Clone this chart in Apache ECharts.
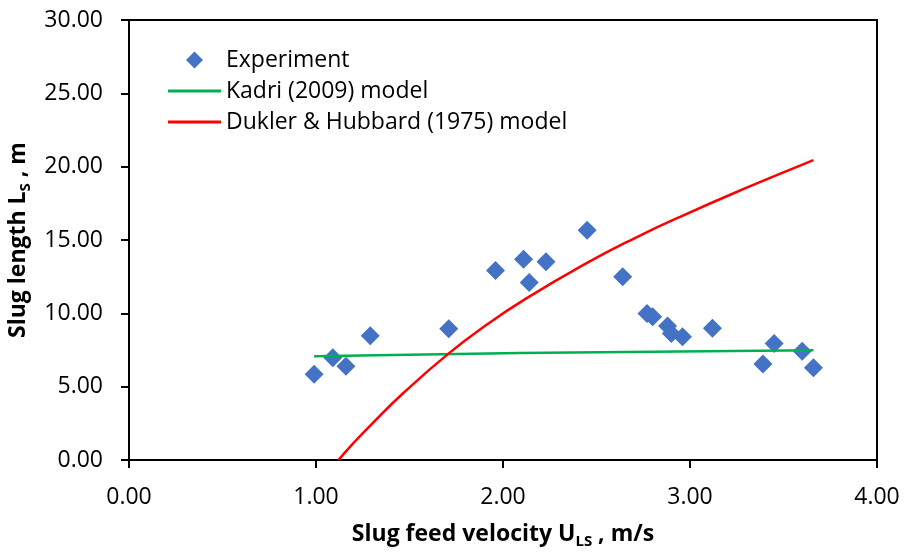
<!DOCTYPE html>
<html>
<head>
<meta charset="utf-8">
<script src="https://cdn.jsdelivr.net/npm/echarts@6/dist/echarts.min.js"></script>
<style>
  html, body { margin: 0; padding: 0; background: #fff; }
  #chart { width: 904px; height: 552px; }
</style>
</head>
<body>
<div id="chart"></div>
<script>
// Measured slug lengths: feed velocity U_LS (m/s) and slug length L_S (m)
const expVelocity = [0.99, 1.09, 1.16, 1.29, 1.71, 1.96, 2.11, 2.14, 2.23, 2.45,
                     2.64, 2.77, 2.80, 2.88, 2.90, 2.96, 3.12, 3.39, 3.45, 3.60, 3.66];
const expLength   = [5.84, 6.97, 6.40, 8.47, 8.95, 12.92, 13.69, 12.10, 13.51, 15.67,
                     12.49, 9.99, 9.76, 9.13, 8.63, 8.40, 8.99, 6.54, 7.95, 7.42, 6.29];

// Kadri (2009) model prediction
const kadriVelocity = [0.99, 2.09, 3.66];
const kadriLength   = [7.08, 7.30, 7.49];

// Dukler & Hubbard (1975) model prediction
const duklerVelocity = [1.12, 1.20, 1.29, 1.47, 1.71, 1.91, 2.11, 2.43, 2.70, 2.95, 3.30, 3.66];
const duklerLength   = [0.00, 1.15, 2.35, 4.60, 7.27, 9.20, 10.90, 13.30, 15.10, 16.60, 18.55, 20.45];

// Axis ticks
const xTicks = [0, 1, 2, 3, 4];
const yTicks = [0, 5, 10, 15, 20, 25, 30];

const zip = (xs, ys) => xs.map((x, i) => [x, ys[i]]);

const FONT = '"Open Sans", "Liberation Sans", sans-serif';
const nameRich = {
  a: { fontFamily: FONT, fontSize: 23, fontWeight: 'bold', color: '#000', lineHeight: 30 },
  s: { fontFamily: FONT, fontSize: 15, fontWeight: 'bold', color: '#000', lineHeight: 12, verticalAlign: 'bottom' }
};
const legendText = { fontFamily: FONT, fontSize: 23, color: '#000', lineHeight: 26 };

const chart = echarts.init(document.getElementById('chart'), null, { renderer: 'canvas' });

chart.setOption({
  backgroundColor: '#fff',
  animation: false,
  grid: {
    left: 129, right: 27, top: 20, bottom: 92,
    containLabel: false,
    outerBoundsMode: 'none',
    show: true, borderColor: '#000', borderWidth: 2, backgroundColor: 'transparent'
  },
  legend: [
    {
      // marker entry
      orient: 'vertical',
      left: 181, top: 42,
      itemWidth: 17, itemHeight: 17,
      icon: 'diamond',
      itemStyle: { opacity: 1 },
      textStyle: Object.assign({ padding: [0, 0, 0, 18] }, legendText),
      data: ['Experiment']
    },
    {
      // line entries
      orient: 'vertical',
      left: 163, top: 73,
      itemWidth: 53, itemHeight: 3, itemGap: 5,
      icon: 'rect',
      textStyle: legendText,
      data: ['Kadri (2009) model', 'Dukler & Hubbard (1975) model']
    }
  ],
  xAxis: {
    type: 'value',
    min: xTicks[0], max: xTicks[xTicks.length - 1], interval: 1,
    name: '{a|Slug feed velocity U}{s|LS}{a| , m/s}',
    nameLocation: 'middle', nameGap: 59,
    nameTextStyle: { rich: nameRich },
    axisLine: { show: true, lineStyle: { color: '#000', width: 2 } },
    axisTick: { show: true, inside: false, length: 8, lineStyle: { color: '#000', width: 2 } },
    axisLabel: {
      margin: 26, fontFamily: FONT, fontSize: 23, color: '#000',
      formatter: v => v.toFixed(2)
    },
    splitLine: { show: false }
  },
  yAxis: {
    type: 'value',
    min: yTicks[0], max: yTicks[yTicks.length - 1], interval: 5,
    name: '{a|Slug length L}{s|S}{a| , m}',
    nameLocation: 'middle', nameGap: 92, nameRotate: 90,
    nameTextStyle: { rich: nameRich },
    axisLine: { show: true, lineStyle: { color: '#000', width: 2 } },
    axisTick: { show: true, inside: false, length: 8, lineStyle: { color: '#000', width: 2 } },
    axisLabel: {
      margin: 26, fontFamily: FONT, fontSize: 23, color: '#000',
      formatter: v => v.toFixed(2)
    },
    splitLine: { show: false }
  },
  series: [
    {
      name: 'Experiment',
      type: 'scatter',
      symbol: 'diamond',
      symbolSize: 19,
      itemStyle: { color: '#4472C4', opacity: 1 },
      data: zip(expVelocity, expLength),
      z: 2
    },
    {
      name: 'Kadri (2009) model',
      type: 'line',
      symbol: 'none',
      lineStyle: { color: '#00B050', width: 2.5 },
      itemStyle: { color: '#00B050' },
      data: zip(kadriVelocity, kadriLength),
      z: 3
    },
    {
      name: 'Dukler & Hubbard (1975) model',
      type: 'line',
      symbol: 'none',
      smooth: 0.5,
      lineStyle: { color: '#FF0000', width: 2.5 },
      itemStyle: { color: '#FF0000' },
      data: zip(duklerVelocity, duklerLength),
      z: 4
    }
  ]
});
</script>
</body>
</html>
